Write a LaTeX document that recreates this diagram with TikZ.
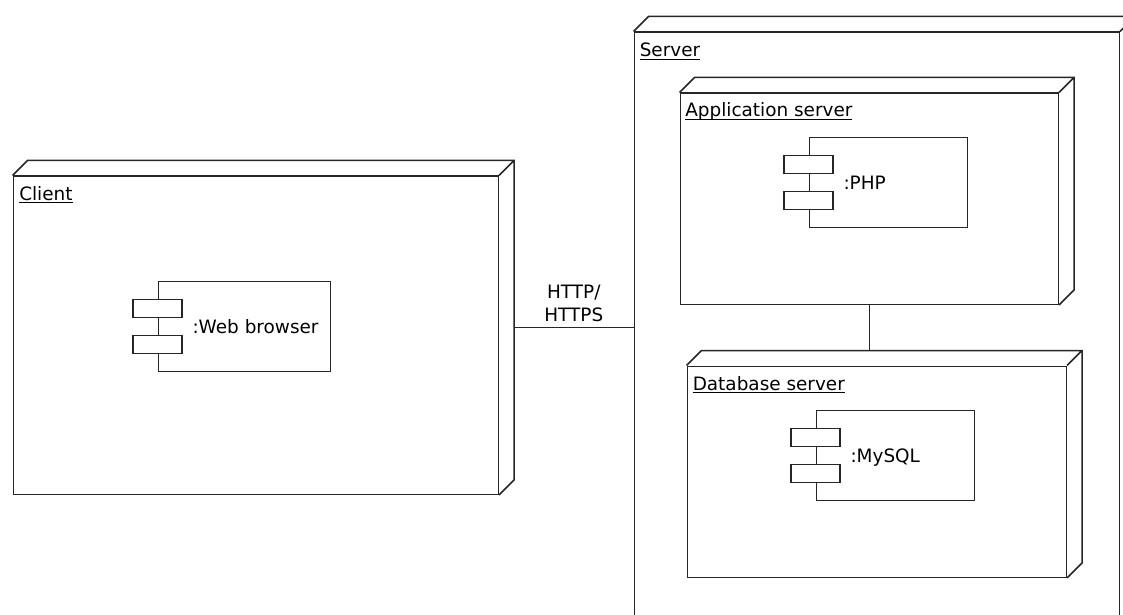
\documentclass[tikz,border=0pt]{standalone}
\usepackage{fontspec}
\setmainfont{DejaVu Sans}
\usetikzlibrary{calc,positioning}
\tikzset{
  device/.style={draw, anchor=north west, inner sep=0pt},
  component/.style={draw, inner sep=0pt, minimum height=90bp},
  port/.style={draw, fill=white},
  comptext/.style={inner sep=0pt, text height=13.5pt, text depth=0pt},
  title/.style={inner sep=0pt, anchor=base west},
}
\newcommand\devicedepth[1]{%
  \draw (#1.north west) -- ++(15,-15) -| ($(#1.south east)+(15,-15)$) -- (#1.south east)
        (#1.north east) -- ++(15,-15);}
\newcommand\compports[1]{%
  \draw[port] ($(#1.west)+(-25,-27)$) rectangle ++(49,18)
              ($(#1.west)+(-25,9)$) rectangle ++(49,18);}
\newcommand\titletext[1]{\vtop{\hbox{\smash{#1}}\kern1.6pt\hrule height 1.2pt}}

\begin{document}
\begin{tikzpicture}[x=1bp,y=-1bp,line width=1.5bp,draw=black!85,
    font=\fontsize{18.5}{22.4}\selectfont]
    \useasboundingbox (0,0) rectangle (1123,615);
    \clip (0,0) rectangle (1123,615);

    % client side
    \node[device, minimum width=485bp, minimum height=318bp] (client) at (12.5,175.5) {};
    \devicedepth{client}
    \node[title] (clienttitle) at ($(client.north west)+(6,25)$) {\titletext{Client}};
    \node[component, minimum width=172bp] (browser) at ($(client.north west)+(232,151)$) {};
    \compports{browser}
    \node[comptext, right=34bp of browser.west] (browsertext) {:Web browser};

    % server side
    \node[device, minimum width=485bp, minimum height=620bp] (server) at (633.5,31.5) {};
    \devicedepth{server}
    \node[title] (servertitle) at ($(server.north west)+(5.5,25.5)$) {\titletext{Server}};

    \node[device, minimum width=378bp, minimum height=211bp] (app) at (679.5,92.5) {};
    \devicedepth{app}
    \node[title] (apptitle) at ($(app.north west)+(5,24.5)$) {\titletext{Application server}};
    \node[component, minimum width=158bp] (php) at ($(app.north west)+(209,90)$) {};
    \compports{php}
    \node[comptext, right=34bp of php.west] (phptext) {:PHP};

    \node[device, minimum width=379bp, minimum height=211bp] (db) at (686.5,365.5) {};
    \devicedepth{db}
    \node[title] (dbtitle) at ($(db.north west)+(5.5,24.5)$) {\titletext{Database server}};
    \node[component, minimum width=158bp] (mysql) at ($(db.north west)+(209,90)$) {};
    \compports{mysql}
    \node[comptext, right=34bp of mysql.west] (mysqltext) {:MySQL};

    % links
    \coordinate (clientside) at ($(client.east)+(15,-8)$);
    \draw (clientside) -- (clientside -| server.west)
        node[midway, above=5bp, align=center, inner sep=0pt] (proto) {HTTP/\\HTTPS};
    \coordinate (dbtop) at ($(db.north)+(0,-15)$);
    \draw (app.south) -- (app.south |- dbtop);
\end{tikzpicture}
\end{document}
